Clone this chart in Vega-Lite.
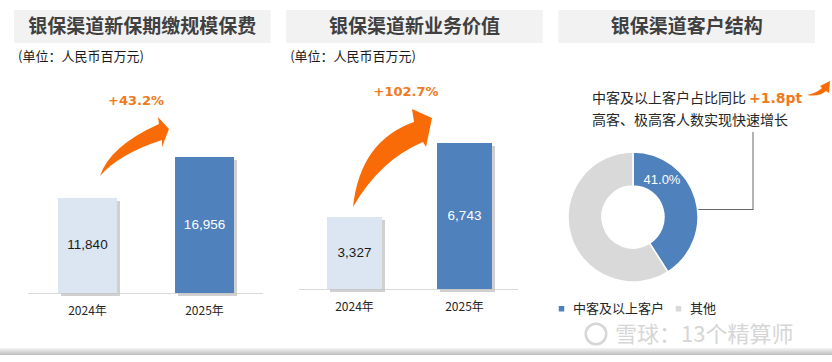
{
  "$schema": "https://vega.github.io/schema/vega-lite/v6.json",
  "width": 832,
  "height": 362,
  "autosize": "none",
  "padding": 0,
  "background": "#ffffff",
  "config": {"view": {"stroke": null}, "axis": {"disable": true}},
  "datasets": {
    "titles": [
      {"panel": "p1", "title": "银保渠道新保期缴规模保费", "unit": "(单位：人民币百万元)"},
      {"panel": "p2", "title": "银保渠道新业务价值", "unit": "(单位：人民币百万元)"},
      {"panel": "p3", "title": "银保渠道客户结构", "unit": ""}
    ],
    "premium": [
      {"year": "2024年", "value": 11840},
      {"year": "2025年", "value": 16956}
    ],
    "nbv": [
      {"year": "2024年", "value": 3327},
      {"year": "2025年", "value": 6743}
    ],
    "clients": [
      {"segment": "中客及以上客户", "share": 0.41},
      {"segment": "其他", "share": 0.59}
    ]
  },
  "data": {"values": [{}]},
  "resolve": {"scale": {"x": "independent", "y": "independent", "color": "independent"}},
  "layer": [
    {
      "data": {"name": "titles"},
      "mark": {"type": "bar", "color": "#f2f2f2"},
      "encoding": {
        "x": {"field": "panel", "type": "nominal", "scale": {"type": "band", "domain": ["p1", "p2", "p3"], "range": [14, 815], "paddingInner": 0.057, "paddingOuter": 0}},
        "y": {"datum": 10, "scale": {"domain": [0, 362], "range": [0, 362], "nice": false, "zero": false}},
        "y2": {"datum": 43}
      }
    },
    {
      "data": {"name": "titles"},
      "mark": {"type": "text", "font": "Noto Sans CJK SC", "fontSize": 19, "fontWeight": "bold", "color": "#404040", "baseline": "middle"},
      "encoding": {
        "x": {"field": "panel", "type": "nominal", "scale": {"type": "band", "domain": ["p1", "p2", "p3"], "range": [14, 815], "paddingInner": 0.057, "paddingOuter": 0}},
        "y": {"datum": 27, "scale": {"domain": [0, 362], "range": [0, 362], "nice": false, "zero": false}},
        "text": {"field": "title"}
      }
    },
    {
      "data": {"name": "titles"},
      "mark": {"type": "text", "font": "Noto Sans CJK SC", "fontSize": 13, "color": "#1a1a1a", "align": "left", "baseline": "middle", "dx": 4},
      "encoding": {
        "x": {"field": "panel", "type": "nominal", "bandPosition": 0, "scale": {"type": "band", "domain": ["p1", "p2", "p3"], "range": [14, 815], "paddingInner": 0.057, "paddingOuter": 0}},
        "y": {"datum": 57, "scale": {"domain": [0, 362], "range": [0, 362], "nice": false, "zero": false}},
        "text": {"field": "unit"}
      }
    },
    {
      "mark": {"type": "rule", "color": "#d9d9d9", "strokeWidth": 1},
      "encoding": {
        "x": {"datum": 28, "scale": {"domain": [0, 832], "range": [0, 832], "nice": false, "zero": false}},
        "x2": {"datum": 263},
        "y": {"datum": 293.5, "scale": {"domain": [0, 362], "range": [0, 362], "nice": false, "zero": false}}
      }
    },
    {
      "mark": {"type": "rule", "color": "#d9d9d9", "strokeWidth": 1},
      "encoding": {
        "x": {"datum": 299, "scale": {"domain": [0, 832], "range": [0, 832], "nice": false, "zero": false}},
        "x2": {"datum": 518},
        "y": {"datum": 289.5, "scale": {"domain": [0, 362], "range": [0, 362], "nice": false, "zero": false}}
      }
    },
    {
      "data": {"name": "premium"},
      "mark": {"type": "bar", "color": "#c4c4c4", "opacity": 0.8, "xOffset": 3, "x2Offset": 3, "yOffset": 3},
      "encoding": {
        "x": {"field": "year", "type": "nominal", "scale": {"type": "band", "domain": ["2024年", "2025年"], "range": [58, 234], "paddingInner": 0.496, "paddingOuter": 0}},
        "y": {"field": "value", "type": "quantitative", "scale": {"domain": [0, 36500], "range": [293, 0], "nice": false}}
      }
    },
    {
      "data": {"name": "premium"},
      "mark": {"type": "bar"},
      "encoding": {
        "x": {"field": "year", "type": "nominal", "scale": {"type": "band", "domain": ["2024年", "2025年"], "range": [58, 234], "paddingInner": 0.496, "paddingOuter": 0}},
        "y": {"field": "value", "type": "quantitative", "scale": {"domain": [0, 36500], "range": [293, 0], "nice": false}},
        "color": {"condition": {"test": "datum.year === '2025年'", "value": "#4f81bd"}, "value": "#dce6f2"}
      }
    },
    {
      "data": {"name": "premium"},
      "mark": {"type": "text", "font": "Liberation Sans", "fontSize": 13.5, "baseline": "middle"},
      "encoding": {
        "x": {"field": "year", "type": "nominal", "scale": {"type": "band", "domain": ["2024年", "2025年"], "range": [58, 234], "paddingInner": 0.496, "paddingOuter": 0}},
        "y": {"field": "value", "type": "quantitative", "scale": {"domain": [0, 73000], "range": [293, 0], "nice": false}},
        "text": {"field": "value", "type": "quantitative", "format": ","},
        "color": {"condition": {"test": "datum.year === '2025年'", "value": "#ffffff"}, "value": "#1a1a1a"}
      }
    },
    {
      "data": {"name": "premium"},
      "mark": {"type": "text", "font": "Noto Sans CJK SC", "fontSize": 12, "color": "#262626", "baseline": "middle"},
      "encoding": {
        "x": {"field": "year", "type": "nominal", "scale": {"type": "band", "domain": ["2024年", "2025年"], "range": [58, 234], "paddingInner": 0.496, "paddingOuter": 0}},
        "y": {"datum": 311, "scale": {"domain": [0, 362], "range": [0, 362], "nice": false, "zero": false}},
        "text": {"field": "year"}
      }
    },
    {
      "data": {"name": "premium"},
      "transform": [{"filter": "datum.year === '2024年'"}],
      "mark": {"type": "point", "shape": "M 12.5 -22 Q 22.5 -52 71.5 -74 L 70.5 -81 L 81.5 -69 L 74.5 -51 L 74.5 -58 Q 31.5 -44 12.5 -22 Z", "size": 4, "filled": true, "color": "#f96b07", "opacity": 1, "strokeWidth": 0},
      "encoding": {
        "x": {"field": "year", "type": "nominal", "scale": {"type": "band", "domain": ["2024年", "2025年"], "range": [58, 234], "paddingInner": 0.496, "paddingOuter": 0}},
        "y": {"field": "value", "type": "quantitative", "scale": {"domain": [0, 36500], "range": [293, 0], "nice": false}}
      }
    },
    {
      "mark": {"type": "text", "text": "+43.2%", "font": "DejaVu Sans", "fontSize": 13, "fontWeight": "bold", "color": "#f07a1e", "baseline": "middle"},
      "encoding": {
        "x": {"datum": 136, "scale": {"domain": [0, 832], "range": [0, 832], "nice": false, "zero": false}},
        "y": {"datum": 101, "scale": {"domain": [0, 362], "range": [0, 362], "nice": false, "zero": false}}
      }
    },
    {
      "data": {"name": "nbv"},
      "mark": {"type": "bar", "color": "#c4c4c4", "opacity": 0.8, "xOffset": 3, "x2Offset": 3, "yOffset": 3},
      "encoding": {
        "x": {"field": "year", "type": "nominal", "scale": {"type": "band", "domain": ["2024年", "2025年"], "range": [327, 492], "paddingInner": 0.5, "paddingOuter": 0}},
        "y": {"field": "value", "type": "quantitative", "scale": {"domain": [0, 13346], "range": [289, 0], "nice": false}}
      }
    },
    {
      "data": {"name": "nbv"},
      "mark": {"type": "bar"},
      "encoding": {
        "x": {"field": "year", "type": "nominal", "scale": {"type": "band", "domain": ["2024年", "2025年"], "range": [327, 492], "paddingInner": 0.5, "paddingOuter": 0}},
        "y": {"field": "value", "type": "quantitative", "scale": {"domain": [0, 13346], "range": [289, 0], "nice": false}},
        "color": {"condition": {"test": "datum.year === '2025年'", "value": "#4f81bd"}, "value": "#dce6f2"}
      }
    },
    {
      "data": {"name": "nbv"},
      "mark": {"type": "text", "font": "Liberation Sans", "fontSize": 13.5, "baseline": "middle"},
      "encoding": {
        "x": {"field": "year", "type": "nominal", "scale": {"type": "band", "domain": ["2024年", "2025年"], "range": [327, 492], "paddingInner": 0.5, "paddingOuter": 0}},
        "y": {"field": "value", "type": "quantitative", "scale": {"domain": [0, 26692], "range": [289, 0], "nice": false}},
        "text": {"field": "value", "type": "quantitative", "format": ","},
        "color": {"condition": {"test": "datum.year === '2025年'", "value": "#ffffff"}, "value": "#1a1a1a"}
      }
    },
    {
      "data": {"name": "nbv"},
      "mark": {"type": "text", "font": "Noto Sans CJK SC", "fontSize": 12, "color": "#262626", "baseline": "middle"},
      "encoding": {
        "x": {"field": "year", "type": "nominal", "scale": {"type": "band", "domain": ["2024年", "2025年"], "range": [327, 492], "paddingInner": 0.5, "paddingOuter": 0}},
        "y": {"datum": 307, "scale": {"domain": [0, 362], "range": [0, 362], "nice": false, "zero": false}},
        "text": {"field": "year"}
      }
    },
    {
      "data": {"name": "nbv"},
      "transform": [{"filter": "datum.year === '2024年'"}],
      "mark": {"type": "point", "shape": "M -1.5 -10 Q 5.5 -76 59.5 -95 L 57.5 -108 L 77.5 -99 L 71.5 -70 L 68.5 -75 Q 25.5 -57 -1.5 -10 Z", "size": 4, "filled": true, "color": "#f96b07", "opacity": 1, "strokeWidth": 0},
      "encoding": {
        "x": {"field": "year", "type": "nominal", "scale": {"type": "band", "domain": ["2024年", "2025年"], "range": [327, 492], "paddingInner": 0.5, "paddingOuter": 0}},
        "y": {"field": "value", "type": "quantitative", "scale": {"domain": [0, 13346], "range": [289, 0], "nice": false}}
      }
    },
    {
      "mark": {"type": "text", "text": "+102.7%", "font": "DejaVu Sans", "fontSize": 13, "fontWeight": "bold", "color": "#f07a1e", "baseline": "middle"},
      "encoding": {
        "x": {"datum": 406, "scale": {"domain": [0, 832], "range": [0, 832], "nice": false, "zero": false}},
        "y": {"datum": 92, "scale": {"domain": [0, 362], "range": [0, 362], "nice": false, "zero": false}}
      }
    },
    {
      "mark": {"type": "text", "text": "中客及以上客户占比同比", "font": "Noto Sans CJK SC", "fontSize": 14, "color": "#262626", "align": "left", "baseline": "middle"},
      "encoding": {
        "x": {"datum": 592, "scale": {"domain": [0, 832], "range": [0, 832], "nice": false, "zero": false}},
        "y": {"datum": 99, "scale": {"domain": [0, 362], "range": [0, 362], "nice": false, "zero": false}}
      }
    },
    {
      "mark": {"type": "text", "text": "+1.8pt", "font": "DejaVu Sans", "fontSize": 14, "fontWeight": "bold", "color": "#f07a1e", "align": "left", "baseline": "middle"},
      "encoding": {
        "x": {"datum": 749, "scale": {"domain": [0, 832], "range": [0, 832], "nice": false, "zero": false}},
        "y": {"datum": 99, "scale": {"domain": [0, 362], "range": [0, 362], "nice": false, "zero": false}}
      }
    },
    {
      "mark": {"type": "text", "text": "高客、极高客人数实现快速增长", "font": "Noto Sans CJK SC", "fontSize": 14, "color": "#262626", "align": "left", "baseline": "middle"},
      "encoding": {
        "x": {"datum": 592, "scale": {"domain": [0, 832], "range": [0, 832], "nice": false, "zero": false}},
        "y": {"datum": 121, "scale": {"domain": [0, 362], "range": [0, 362], "nice": false, "zero": false}}
      }
    },
    {
      "mark": {"type": "point", "shape": "M 0 0 Q 10 -2 15 -7 L 13 -9 L 23 -14 L 22 -2 L 19 -4 Q 12 2 0 0 Z", "size": 4, "filled": true, "color": "#f96b07", "opacity": 1, "strokeWidth": 0},
      "encoding": {
        "x": {"datum": 807, "scale": {"domain": [0, 832], "range": [0, 832], "nice": false, "zero": false}},
        "y": {"datum": 95, "scale": {"domain": [0, 362], "range": [0, 362], "nice": false, "zero": false}}
      }
    },
    {
      "mark": {"type": "rule", "color": "#666666", "strokeWidth": 1},
      "encoding": {
        "x": {"datum": 753, "scale": {"domain": [0, 832], "range": [0, 832], "nice": false, "zero": false}},
        "y": {"datum": 132, "scale": {"domain": [0, 362], "range": [0, 362], "nice": false, "zero": false}},
        "y2": {"datum": 209.5}
      }
    },
    {
      "mark": {"type": "rule", "color": "#666666", "strokeWidth": 1},
      "encoding": {
        "x": {"datum": 697, "scale": {"domain": [0, 832], "range": [0, 832], "nice": false, "zero": false}},
        "x2": {"datum": 753.5},
        "y": {"datum": 209.5, "scale": {"domain": [0, 362], "range": [0, 362], "nice": false, "zero": false}}
      }
    },
    {
      "data": {"name": "clients"},
      "mark": {"type": "arc", "innerRadius": 31, "outerRadius": 65, "stroke": "#ffffff", "strokeWidth": 1.5},
      "encoding": {
        "theta": {"field": "share", "type": "quantitative", "stack": true},
        "order": {"field": "share", "sort": "ascending"},
        "color": {
          "field": "segment", "type": "nominal",
          "scale": {"domain": ["中客及以上客户", "其他"], "range": ["#4f81bd", "#d9d9d9"]},
          "legend": {"orient": "none", "legendX": 555, "legendY": 302, "direction": "horizontal", "title": null, "symbolType": "square", "symbolSize": 30, "symbolStrokeWidth": 0, "labelFont": "Noto Sans CJK SC", "labelFontSize": 13, "labelColor": "#262626", "labelOffset": 5, "columnPadding": 7, "padding": 0}
        },
        "x": {"datum": 633, "scale": {"domain": [0, 832], "range": [0, 832], "nice": false, "zero": false}},
        "y": {"datum": 217, "scale": {"domain": [0, 362], "range": [0, 362], "nice": false, "zero": false}}
      }
    },
    {
      "data": {"name": "clients"},
      "transform": [{"filter": "datum.segment === '中客及以上客户'"}],
      "mark": {"type": "text", "font": "Liberation Sans", "fontSize": 13, "color": "#ffffff", "baseline": "middle"},
      "encoding": {
        "text": {"field": "share", "type": "quantitative", "format": ".1%"},
        "x": {"datum": 662, "scale": {"domain": [0, 832], "range": [0, 832], "nice": false, "zero": false}},
        "y": {"datum": 180, "scale": {"domain": [0, 362], "range": [0, 362], "nice": false, "zero": false}}
      }
    },
    {
      "mark": {"type": "text", "text": "雪球：13个精算师", "font": "Noto Sans CJK SC", "fontSize": 22, "color": "#d6d6d6", "align": "left", "baseline": "middle"},
      "encoding": {
        "x": {"datum": 615, "scale": {"domain": [0, 832], "range": [0, 832], "nice": false, "zero": false}},
        "y": {"datum": 335, "scale": {"domain": [0, 362], "range": [0, 362], "nice": false, "zero": false}}
      }
    },
    {
      "mark": {"type": "point", "shape": "circle", "size": 420, "filled": false, "color": "#d6d6d6", "strokeWidth": 2.5, "opacity": 1},
      "encoding": {
        "x": {"datum": 596, "scale": {"domain": [0, 832], "range": [0, 832], "nice": false, "zero": false}},
        "y": {"datum": 334, "scale": {"domain": [0, 362], "range": [0, 362], "nice": false, "zero": false}}
      }
    },
    {
      "mark": {"type": "rect", "fill": {"gradient": "linear", "x1": 0, "y1": 0, "x2": 0, "y2": 1, "stops": [{"offset": 0, "color": "#f4f4f4"}, {"offset": 0.6, "color": "#d4d4d4"}, {"offset": 1, "color": "#bcbcbc"}]}},
      "encoding": {
        "x": {"datum": 0, "scale": {"domain": [0, 832], "range": [0, 832], "nice": false, "zero": false}},
        "x2": {"datum": 832},
        "y": {"datum": 348, "scale": {"domain": [0, 362], "range": [0, 362], "nice": false, "zero": false}},
        "y2": {"datum": 355}
      }
    }
  ]
}
